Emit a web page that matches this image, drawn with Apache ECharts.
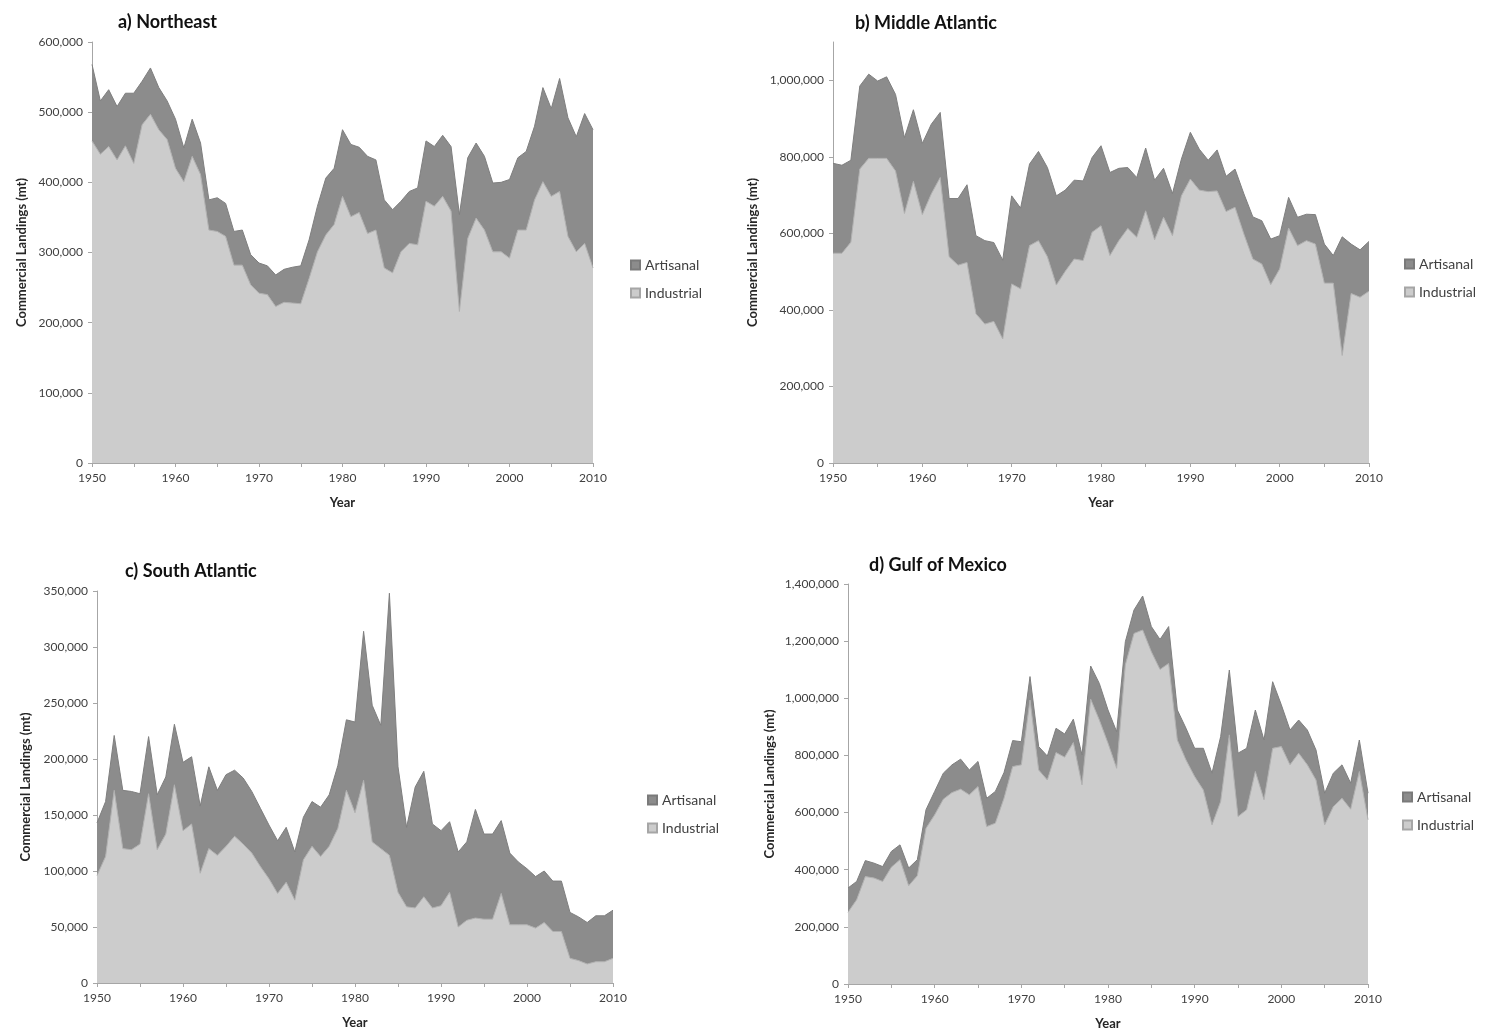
<!DOCTYPE html>
<html>
<head>
<meta charset="utf-8">
<script src="https://cdn.jsdelivr.net/npm/echarts@6/dist/echarts.min.js"></script>
<style>
html,body{margin:0;padding:0;background:#fff;}
#c{width:1485px;height:1036px;}
</style>
</head>
<body>
<div id="c"></div>
<script>
// ---- Data (metric tons) ----
const years = ['1950','1951','1952','1953','1954','1955','1956','1957','1958','1959',
  '1960','1961','1962','1963','1964','1965','1966','1967','1968','1969',
  '1970','1971','1972','1973','1974','1975','1976','1977','1978','1979',
  '1980','1981','1982','1983','1984','1985','1986','1987','1988','1989',
  '1990','1991','1992','1993','1994','1995','1996','1997','1998','1999',
  '2000','2001','2002','2003','2004','2005','2006','2007','2008','2009','2010'];

const seriesNames = ['Artisanal', 'Industrial'];
const panelTitles = ['a) Northeast', 'b) Middle Atlantic', 'c) South Atlantic', 'd) Gulf of Mexico'];
const yAxisTitle = 'Commercial Landings (mt)';
const xAxisTitle = 'Year';

// a) Northeast
const neIndustrial = [459000,440000,451000,432000,452000,427000,482000,497000,475000,461000,
  420000,401000,437000,411000,332000,330000,323000,282000,282000,254000,
  242000,240000,223000,229000,228000,227000,263000,301000,325000,340000,
  380000,351000,357000,327000,332000,278000,271000,301000,313000,311000,
  373000,366000,380000,359000,216000,320000,349000,332000,301000,301000,
  292000,332000,332000,375000,401000,380000,387000,323000,301000,313000,278000];
const neArtisanal = [109000,76000,81000,76000,75000,100000,62000,66000,60000,55000,
  70000,48000,53000,45000,43000,48000,47000,48000,50000,43000,
  43000,41000,45000,47000,51000,54000,55000,65000,81000,80000,
  95000,103000,93000,110000,100000,97000,90000,72000,74000,81000,
  86000,85000,87000,92000,138000,115000,107000,105000,98000,99000,
  112000,103000,112000,105000,134000,125000,161000,169000,164000,185000,197000];

// b) Middle Atlantic
const maIndustrial = [548000,548000,577000,768000,796000,796000,796000,763000,652000,736000,
  649000,703000,746000,539000,517000,524000,390000,363000,370000,324000,
  468000,455000,568000,581000,539000,465000,501000,533000,529000,603000,
  620000,542000,581000,613000,590000,659000,583000,642000,594000,698000,
  742000,713000,709000,711000,657000,668000,598000,533000,520000,466000,
  507000,614000,568000,581000,572000,470000,470000,281000,443000,433000,449000];
const maArtisanal = [235000,230000,214000,217000,220000,202000,213000,200000,198000,187000,
  186000,182000,170000,152000,174000,203000,204000,218000,206000,206000,
  230000,211000,213000,233000,233000,233000,212000,206000,208000,195000,
  209000,217000,189000,159000,156000,164000,156000,128000,110000,96000,
  122000,107000,82000,107000,92000,100000,105000,110000,113000,119000,
  87000,80000,74000,69000,77000,102000,72000,310000,129000,124000,130000];

// c) South Atlantic
const saIndustrial = [96000,113000,172000,120000,119000,124000,169000,119000,133000,177000,
  136000,142000,98000,120000,114000,122000,131000,124000,116000,104000,
  93000,80000,90000,74000,110000,122000,113000,122000,138000,172000,
  152000,181000,126000,120000,114000,81000,68000,67000,77000,67000,
  69000,81000,50000,56000,58000,57000,57000,80000,52000,52000,
  52000,49000,54000,46000,46000,22000,20000,17000,19000,19000,22000];
const saArtisanal = [47000,49000,49000,52000,52000,45000,51000,49000,51000,54000,
  61000,60000,60000,73000,58000,64000,59000,59000,55000,52000,
  48000,47000,49000,43000,38000,40000,44000,46000,56000,63000,
  81000,133000,122000,110000,234000,112000,71000,108000,112000,75000,
  67000,63000,67000,70000,97000,76000,76000,65000,64000,56000,
  50000,46000,46000,45000,45000,41000,39000,37000,41000,41000,43000];

// d) Gulf of Mexico
const gmIndustrial = [251000,295000,376000,371000,359000,409000,435000,344000,379000,545000,
  592000,647000,670000,682000,662000,691000,551000,563000,650000,761000,
  767000,994000,749000,714000,810000,794000,845000,697000,997000,924000,
  843000,755000,1117000,1227000,1239000,1163000,1101000,1122000,854000,784000,
  726000,679000,557000,639000,872000,586000,610000,744000,645000,825000,
  831000,767000,808000,767000,714000,557000,621000,650000,612000,744000,575000];
const gmArtisanal = [85000,64000,56000,52000,52000,55000,52000,62000,56000,65000,
  82000,91000,97000,105000,87000,88000,99000,111000,90000,91000,
  81000,82000,82000,84000,85000,81000,82000,105000,116000,128000,
  116000,128000,81000,82000,119000,88000,105000,129000,105000,111000,
  99000,146000,181000,227000,227000,222000,215000,215000,209000,233000,
  146000,122000,116000,122000,105000,111000,117000,117000,91000,110000,93000];

// ---- Layout / styles ----
const FONT = 'Lato, "Open Sans", sans-serif';
const COL_ART = '#8c8c8c';
const COL_IND = '#cccccc';
const AXIS_COL = '#a6a6a6';

const panels = [
  {ind: neIndustrial, art: neArtisanal, grid: {left: 92, top: 42, width: 501, height: 421},
   yMax: 600000, yInt: 100000, title: {left: 113, top: 8}, legend: {left: 625, top: 253},
   yNameGap: 64},
  {ind: maIndustrial, art: maArtisanal, grid: {left: 833, top: 42, width: 536, height: 421},
   yMax: 1100000, yInt: 200000, title: {left: 850, top: 9}, legend: {left: 1399, top: 252},
   yNameGap: 74},
  {ind: saIndustrial, art: saArtisanal, grid: {left: 97, top: 591, width: 516, height: 392},
   yMax: 350000, yInt: 50000, title: {left: 120, top: 557}, legend: {left: 642, top: 788},
   yNameGap: 65},
  {ind: gmIndustrial, art: gmArtisanal, grid: {left: 848, top: 584, width: 520, height: 400},
   yMax: 1400000, yInt: 200000, title: {left: 864, top: 551}, legend: {left: 1397, top: 785},
   yNameGap: 72}
];

const fmt = v => String(v).replace(/\B(?=(\d{3})+(?!\d))/g, ',');

const option = {
  animation: false,
  backgroundColor: '#ffffff',
  textStyle: {fontFamily: FONT},
  title: [], legend: [], grid: [], xAxis: [], yAxis: [], series: []
};

panels.forEach((p, i) => {
  option.grid.push(Object.assign({}, p.grid));
  option.title.push({
    text: panelTitles[i], left: p.title.left, top: p.title.top,
    textStyle: {fontFamily: FONT, fontSize: 18, fontWeight: 'bold', color: '#111'}
  });
  option.legend.push({
    data: seriesNames, orient: 'vertical', left: p.legend.left, top: p.legend.top,
    icon: 'rect', itemWidth: 9, itemHeight: 9, itemGap: 14,
    textStyle: {fontFamily: FONT, fontSize: 14, color: '#404040'},
    selectedMode: false
  });
  option.xAxis.push({
    type: 'category', gridIndex: i, data: years, boundaryGap: false,
    name: xAxisTitle, nameLocation: 'middle', nameGap: 33,
    nameTextStyle: {fontFamily: FONT, fontSize: 13, fontWeight: 'bold', color: '#262626'},
    axisLine: {show: true, lineStyle: {color: AXIS_COL, width: 1}},
    axisTick: {show: true, inside: false, length: 4, alignWithLabel: true,
      interval: idx => idx % 5 === 0, lineStyle: {color: AXIS_COL}},
    splitLine: {show: false},
    axisLabel: {fontFamily: FONT, fontSize: 12, color: '#404040', margin: 9,
      interval: idx => idx % 10 === 0}
  });
  option.yAxis.push({
    type: 'value', gridIndex: i, min: 0, max: p.yMax, interval: p.yInt,
    name: yAxisTitle, nameLocation: 'middle', nameGap: p.yNameGap,
    nameTextStyle: {fontFamily: FONT, fontSize: 13, fontWeight: 'bold', color: '#262626'},
    axisLine: {show: true, lineStyle: {color: AXIS_COL, width: 1}},
    axisTick: {show: true, inside: false, length: 4, lineStyle: {color: AXIS_COL}},
    splitLine: {show: false},
    axisLabel: {fontFamily: FONT, fontSize: 12, color: '#404040', margin: 9,
      showMaxLabel: p.yMax % p.yInt === 0, formatter: v => fmt(v)}
  });
  option.series.push({
    name: seriesNames[1], type: 'line', xAxisIndex: i, yAxisIndex: i, stack: 'p' + i,
    data: p.ind,
    symbol: 'none', smooth: false,
    lineStyle: {width: 1, color: '#b0b0b0'},
    areaStyle: {color: COL_IND, opacity: 1},
    itemStyle: {color: COL_IND, borderColor: '#a6a6a6', borderWidth: 1}
  });
  option.series.push({
    name: seriesNames[0], type: 'line', xAxisIndex: i, yAxisIndex: i, stack: 'p' + i,
    data: p.art,
    symbol: 'none', smooth: false,
    lineStyle: {width: 1, color: '#7f7f7f'},
    areaStyle: {color: COL_ART, opacity: 1},
    itemStyle: {color: COL_ART, borderColor: '#7a7a7a', borderWidth: 1}
  });
});

const chart = echarts.init(document.getElementById('c'), null, {renderer: 'canvas'});
chart.setOption(option);
</script>
</body>
</html>
